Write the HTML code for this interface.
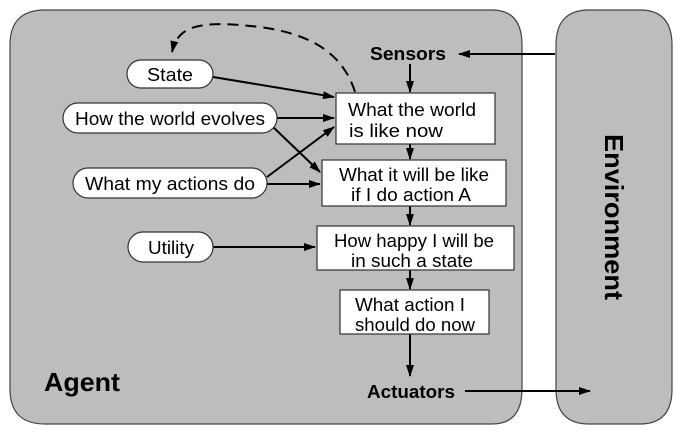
<!DOCTYPE html>
<html><head><meta charset="utf-8"><style>
body{margin:0;background:#fff;}
svg{display:block;font-family:"Liberation Sans",Arial,sans-serif;}
</style></head><body>
<svg width="684" height="435" viewBox="0 0 684 435" xmlns="http://www.w3.org/2000/svg">
<defs>
<marker id="a" markerWidth="12" markerHeight="8" refX="11" refY="4" orient="auto" markerUnits="userSpaceOnUse">
<path d="M0,0 L12,4 L0,8 Z" fill="#000"/></marker>
</defs>
<path d="M45,10 H492 Q522,10 522,45 V389 Q522,424 492,424 H45 Q10,424 10,389 V45 Q10,10 45,10 Z" fill="#bdbdbd" stroke="#444" stroke-width="1.2"/>
<path d="M589,10 H640 Q672,10 672,45 V389 Q672,424 640,424 H589 Q556,424 556,389 V45 Q556,10 589,10 Z" fill="#bdbdbd" stroke="#444" stroke-width="1.2"/>
<g stroke="#000" stroke-width="2" fill="none">
<path d="M355,92 C345,60 320,35 260,27 C200,20 178,25 172,52" stroke-dasharray="11,7" marker-end="url(#a)"/>
<line x1="555" y1="54" x2="459" y2="54" marker-end="url(#a)"/>
<line x1="410" y1="64" x2="410" y2="92" marker-end="url(#a)"/>
<line x1="410" y1="144" x2="410" y2="159" marker-end="url(#a)"/>
<line x1="410" y1="206" x2="410" y2="225" marker-end="url(#a)"/>
<line x1="410" y1="270" x2="410" y2="289" marker-end="url(#a)"/>
<line x1="410" y1="334" x2="410" y2="376" marker-end="url(#a)"/>
<line x1="465" y1="391" x2="590" y2="391" marker-end="url(#a)"/>
<line x1="213" y1="77" x2="334" y2="97" marker-end="url(#a)"/>
<line x1="277" y1="118" x2="334" y2="118" marker-end="url(#a)"/>
<line x1="272" y1="126" x2="320" y2="172" marker-end="url(#a)"/>
<line x1="267" y1="177" x2="334" y2="127" marker-end="url(#a)"/>
<line x1="267" y1="184" x2="320" y2="184" marker-end="url(#a)"/>
<line x1="213" y1="247" x2="315" y2="247" marker-end="url(#a)"/>
</g>
<g fill="#fff" stroke="#333" stroke-width="1.2">
<rect x="127" y="60" width="86" height="28" rx="14"/>
<rect x="63" y="103" width="214" height="30" rx="15"/>
<rect x="73" y="168" width="194" height="30" rx="15"/>
<rect x="128" y="232" width="85" height="30" rx="15"/>
<rect x="336" y="93" width="159" height="51"/>
<rect x="322" y="160" width="184" height="46"/>
<rect x="317" y="226" width="197" height="44"/>
<rect x="340" y="290" width="149" height="44"/>
</g>
<g font-size="18" fill="#000" text-anchor="middle">
<text x="170" y="81" textLength="46" lengthAdjust="spacingAndGlyphs">State</text>
<text x="170" y="125" textLength="190" lengthAdjust="spacingAndGlyphs">How the world evolves</text>
<text x="170" y="190" textLength="170" lengthAdjust="spacingAndGlyphs">What my actions do</text>
<text x="171" y="254" textLength="46" lengthAdjust="spacingAndGlyphs">Utility</text>
<text x="412" y="116" textLength="128" lengthAdjust="spacingAndGlyphs">What the world</text>
<text x="396" y="137" textLength="94" lengthAdjust="spacingAndGlyphs">is like now</text>
<text x="414" y="181" textLength="150" lengthAdjust="spacingAndGlyphs">What it will be like</text>
<text x="411" y="201" textLength="120" lengthAdjust="spacingAndGlyphs">if I do action A</text>
<text x="414" y="247" textLength="160" lengthAdjust="spacingAndGlyphs">How happy I will be</text>
<text x="412" y="267" textLength="122" lengthAdjust="spacingAndGlyphs">in such a state</text>
<text x="410" y="311" textLength="110" lengthAdjust="spacingAndGlyphs">What action I</text>
<text x="415" y="331" textLength="120" lengthAdjust="spacingAndGlyphs">should do now</text>
</g>
<g font-weight="bold" fill="#000" text-anchor="middle">
<text x="408" y="60" font-size="18" textLength="76" lengthAdjust="spacingAndGlyphs">Sensors</text>
<text x="411" y="398" font-size="18" textLength="88" lengthAdjust="spacingAndGlyphs">Actuators</text>
<text x="82" y="391" font-size="26" textLength="76" lengthAdjust="spacingAndGlyphs">Agent</text>
<text transform="translate(605,217) rotate(90)" font-size="26" textLength="166" lengthAdjust="spacingAndGlyphs">Environment</text>
</g>
</svg>
</body></html>
